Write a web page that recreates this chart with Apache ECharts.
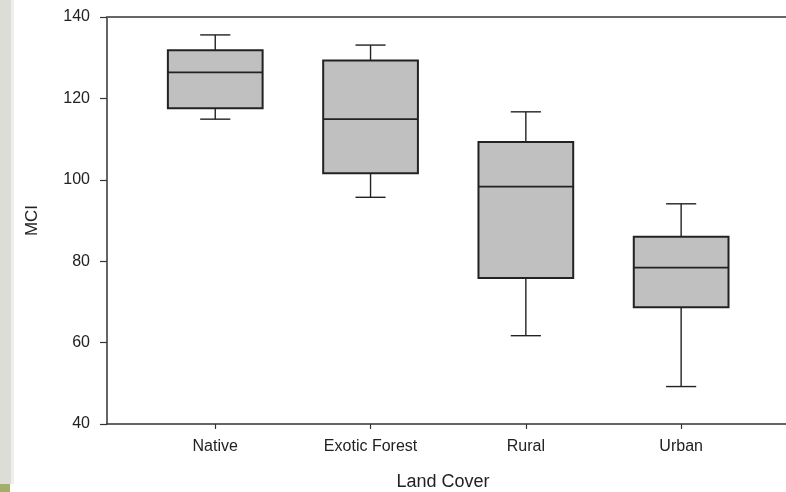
<!DOCTYPE html>
<html>
<head>
<meta charset="utf-8">
<script src="https://cdn.jsdelivr.net/npm/echarts@6/dist/echarts.min.js"></script>
<style>
html,body{margin:0;padding:0;background:#fff;}
#chart{width:786px;height:492px;}
</style>
</head>
<body>
<div id="chart"></div>
<script>
// Data
const categories = ['Native', 'Exotic Forest', 'Rural', 'Urban'];
const whiskerLow  = [114.9, 95.7, 61.7, 49.2];
const q1          = [117.6, 101.6, 75.9, 68.7];
const median      = [126.4, 114.9, 98.3, 78.4];
const q3          = [131.8, 129.3, 109.3, 86.0];
const whiskerHigh = [135.6, 133.1, 116.7, 94.1];
const yTicks = [40, 60, 80, 100, 120, 140];

const positions = categories.map((c, i) => i + 1);
const boxData = categories.map((c, i) => [positions[i], whiskerLow[i], q1[i], median[i], q3[i], whiskerHigh[i]]);

const chart = echarts.init(document.getElementById('chart'));
const font = '"Liberation Sans", Arial, sans-serif';
const xMin = 0.303;
const xMax = xMin + (786 - 107) / 155.3;

function renderItem(params, api) {
  const x = api.value(0);
  const pMin = api.coord([x, api.value(1)]);
  const pQ1 = api.coord([x, api.value(2)]);
  const pMed = api.coord([x, api.value(3)]);
  const pQ3 = api.coord([x, api.value(4)]);
  const pMax = api.coord([x, api.value(5)]);
  const unit = api.size([1, 0])[0];
  const hw = unit * 0.305;
  const cw = unit * 0.097;
  const cx = pQ1[0];
  const lineStyle = {stroke: '#222', lineWidth: 1.4};
  return {
    type: 'group',
    children: [
      {type: 'line', shape: {x1: cx, y1: pMax[1], x2: cx, y2: pQ3[1]}, style: lineStyle},
      {type: 'line', shape: {x1: cx, y1: pQ1[1], x2: cx, y2: pMin[1]}, style: lineStyle},
      {type: 'line', shape: {x1: cx - cw, y1: pMax[1], x2: cx + cw, y2: pMax[1]}, style: lineStyle},
      {type: 'line', shape: {x1: cx - cw, y1: pMin[1], x2: cx + cw, y2: pMin[1]}, style: lineStyle},
      {type: 'rect', shape: {x: cx - hw, y: pQ3[1], width: hw * 2, height: pQ1[1] - pQ3[1]},
        style: {fill: '#c0c0c0', stroke: '#222', lineWidth: 2}},
      {type: 'line', shape: {x1: cx - hw, y1: pMed[1], x2: cx + hw, y2: pMed[1]}, style: {stroke: '#222', lineWidth: 1.8}}
    ]
  };
}

const option = {
  backgroundColor: '#fff',
  animation: false,
  grid: {left: 107, top: 17, right: 0, bottom: 68},
  xAxis: [{
    type: 'value',
    min: xMin,
    max: xMax,
    splitLine: {show: false},
    axisLine: {show: true, lineStyle: {color: '#333', width: 1.5}},
    axisTick: {show: true, length: 5, customValues: positions, lineStyle: {color: '#333', width: 1.2}},
    axisLabel: {
      customValues: positions,
      margin: 15,
      fontSize: 16,
      fontFamily: font,
      color: '#222',
      formatter: v => categories[Math.round(v) - 1] || ''
    }
  }, {
    type: 'value',
    position: 'top',
    min: xMin,
    max: xMax,
    splitLine: {show: false},
    axisLine: {show: true, lineStyle: {color: '#666', width: 1.8}},
    axisTick: {show: false},
    axisLabel: {show: false}
  }],
  yAxis: {
    type: 'value',
    min: 40,
    max: 140,
    interval: 20,
    name: 'MCI',
    nameLocation: 'middle',
    nameGap: 66,
    nameTextStyle: {fontSize: 17, fontFamily: font, color: '#222'},
    splitLine: {show: false},
    axisLine: {show: true, lineStyle: {color: '#333', width: 1.5}},
    axisTick: {show: true, length: 7, lineStyle: {color: '#333', width: 1.2}},
    axisLabel: {
      margin: 17,
      fontSize: 16,
      fontFamily: font,
      color: '#222',
      customValues: yTicks
    }
  },
  graphic: [
    {type: 'rect', left: 0, top: 0, shape: {width: 11, height: 484}, style: {fill: '#dcddd6'}, z: -1},
    {type: 'rect', left: 11, top: 0, shape: {width: 3, height: 484}, style: {fill: '#eeeeea'}, z: -1},
    {type: 'rect', left: 0, top: 484, shape: {width: 10, height: 8}, style: {fill: '#a4ad6a'}, z: -1},
    {type: 'text', x: 443, y: 482, style: {text: 'Land Cover', font: '18px ' + font, fill: '#222', textAlign: 'center', textVerticalAlign: 'middle'}}
  ],
  series: [{
    type: 'custom',
    renderItem: renderItem,
    encode: {x: 0, y: [1, 2, 3, 4, 5]},
    data: boxData,
    clip: false
  }]
};
chart.setOption(option);
</script>
</body>
</html>
